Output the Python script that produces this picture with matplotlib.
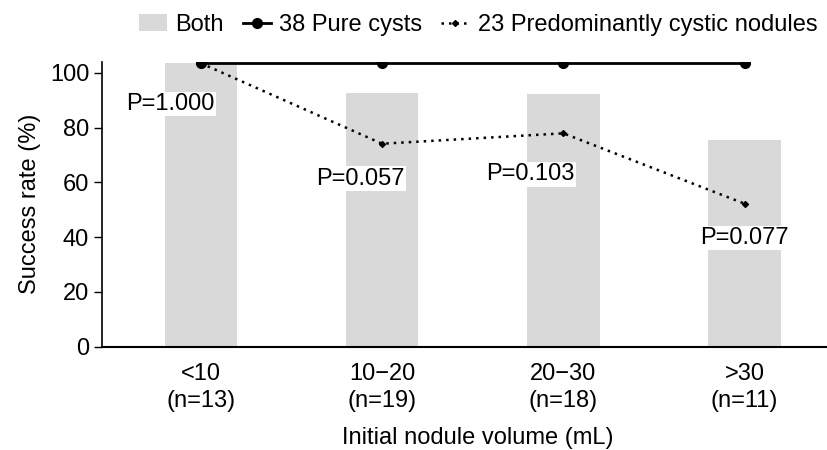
import matplotlib
matplotlib.use("Agg")
import matplotlib.pyplot as plt
import numpy as np

plt.rcParams['font.family'] = ['Liberation Sans', 'DejaVu Sans']

categories = ["<10\n(n=13)", "10\u221220\n(n=19)", "20\u221230\n(n=18)", ">30\n(n=11)"]
both = [103.5, 92.5, 92.1, 75.4]
pure_cysts = [103.5, 103.5, 103.5, 103.5]
predominantly = [103.5, 74.1, 77.9, 52.2]
p_labels = ["P=1.000", "P=0.057", "P=0.103", "P=0.077"]
p_x = [-0.17, 0.88, 1.82, 3.0]
p_y = [88.6, 61.3, 63.0, 39.7]

FS = 17
fig = plt.figure(figsize=(8.28, 4.5), dpi=100)
ax = fig.add_axes([0.1228, 0.2296, 0.8772, 0.633])
x = np.arange(len(categories))

hb = ax.bar(x, both, width=0.4, color="#d9d9d9", label="Both", zorder=1)
hp, = ax.plot(x, pure_cysts, color="black", lw=2, marker="o", ms=7, label="38 Pure cysts", zorder=3)
hd, = ax.plot(x, predominantly, color="black", lw=1.8, ls=(0, (1, 2)), marker="D", ms=3,
              label="23 Predominantly cystic nodules", zorder=3)

for px, py, t in zip(p_x, p_y, p_labels):
    ax.text(px, py, t, ha="center", va="center", fontsize=FS,
            bbox=dict(facecolor="white", edgecolor="none", pad=1), zorder=4)

ax.set_xlim(-0.547, 3.46)
ax.set_ylim(0, 104)
ax.set_yticks([0, 20, 40, 60, 80, 100])
ax.set_xticks(x)
ax.set_xticklabels(categories, fontsize=FS, linespacing=1.25)
ax.tick_params(axis="y", labelsize=FS, length=6, width=1, pad=3)
ax.tick_params(axis="x", length=0, pad=12)
for s in ["top", "right"]:
    ax.spines[s].set_visible(False)
ax.spines["left"].set_linewidth(1.2)
ax.spines["bottom"].set_linewidth(1.5)
ax.set_ylabel("Success rate (%)", fontsize=FS, labelpad=6)
ax.set_xlabel("Initial nodule volume (mL)", fontsize=FS)
ax.xaxis.set_label_coords(478/828, 1 - 438/450, transform=fig.transFigure)
ax.xaxis.label.set_va("center")

fig.legend([hb, hp, hd], ["Both", "38 Pure cysts", "23 Predominantly cystic nodules"],
           loc="center", bbox_to_anchor=(478/828, 1 - 25/450), ncol=3, frameon=False,
           fontsize=FS, handlelength=1.2, columnspacing=0.8, handletextpad=0.35,
           borderpad=0.1)

fig.savefig("out.png", dpi=100)
